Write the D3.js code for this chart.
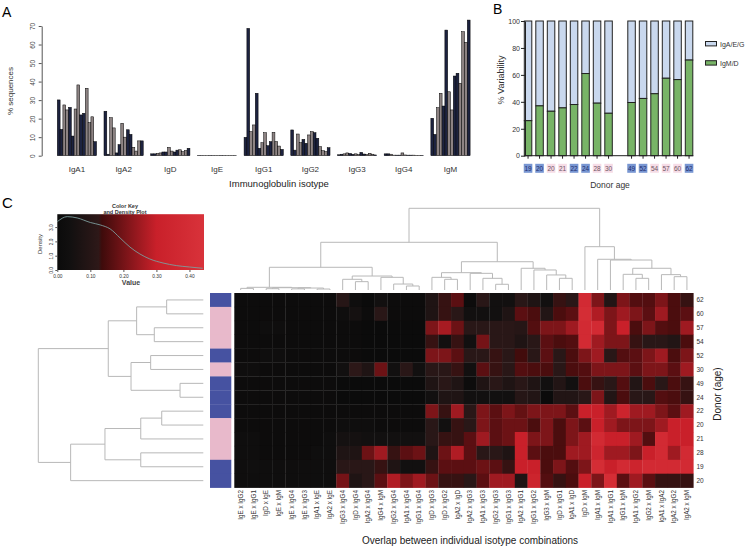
<!DOCTYPE html>
<html><head><meta charset="utf-8">
<script src="https://cdn.jsdelivr.net/npm/d3@7"></script>
<style>body{margin:0;background:#fff} svg{font-family:"Liberation Sans",Arial,sans-serif}</style>
</head><body><svg id="c" width="751" height="550"></svg>
<script>
// ---------------- DATA ----------------
const donorAges = ["19","20","20","21","22","24","28","30","49","52","54","57","60","62"];
const donorGroup = ["b","b","p","p","b","b","p","p","b","b","p","p","p","b"];
const isotypes = ["IgA1","IgA2","IgD","IgE","IgG1","IgG2","IgG3","IgG4","IgM"];
const pctIgA1 = [30.1,14.2,27.4,24.7,26.1,10.6,25.2,38.2,22.0,22.9,36.4,17.8,21.0,7.6];
const pctIgA2 = [24.0,0.8,20.5,15.0,1.5,6.0,17.5,10.0,14.0,11.5,4.5,2.5,8.0,8.0];
const pctIgD  = [1.0,1.0,1.2,1.5,2.0,2.0,4.5,2.5,2.0,3.0,3.2,2.2,2.8,4.0];
const pctIgE  = [0.15,0.1,0.1,0.1,0.15,0.1,0.1,0.1,0.15,0.1,0.1,0.1,0.1,0.1];
const pctIgG1 = [9.9,68.7,13.0,16.6,33.7,4.0,7.0,12.4,5.4,7.6,12.6,7.6,5.2,3.4];
const pctIgG2 = [13.9,3.0,11.7,7.0,8.8,6.7,11.2,13.0,12.4,9.4,4.9,2.7,2.2,4.3];
const pctIgG3 = [0.5,0.8,1.0,1.5,1.2,0.8,1.0,0.6,1.8,0.9,0.7,1.3,0.8,0.4];
const pctIgG4 = [1.0,1.0,0.8,0.3,0.3,0.3,1.5,0.4,0.3,0.3,0.3,0.2,0.2,0.2];
const pctIgM  = [20.2,11.5,25.9,33.7,26.8,67.8,34.5,24.7,43.0,44.5,39.1,66.9,61.2,73.2];
const yTicksA = [0,10,20,30,40,50,60,70];

const varIgMD  = [26,37,33,35.5,38,61,39,31.5,39.5,42.5,46,57.5,56.5,71];
const varIgAEG = [74,63,67,64.5,62,39,61,68.5,60.5,57.5,54,42.5,43.5,29];
const bSeries = ["IgA/E/G","IgM/D"];
const yTicksB = [0,20,40,60,80,100];

const colLabels = ["IgE x IgG2","IgE x IgG1","IgD x IgE","IgE x IgM","IgE x IgG4","IgE x IgG3","IgA1 x IgE","IgA2 x IgE",
 "IgG3 x IgG4","IgD x IgG4","IgA2 x IgG4","IgG4 x IgM","IgG2 x IgG4","IgA1 x IgG4","IgG1 x IgG4",
 "IgD x IgG3","IgD x IgG2","IgA2 x IgD","IgA2 x IgG3","IgA1 x IgG3","IgG2 x IgG3","IgG1 x IgG3",
 "IgA2 x IgG1","IgG1 x IgG2","IgG3 x IgM","IgD x IgG1","IgA1 x IgD",
 "IgD x IgM","IgA1 x IgM","IgA1 x IgG1","IgG1 x IgM","IgA1 x IgG2","IgG2 x IgM","IgA1 x IgA2","IgA2 x IgG2","IgA2 x IgM"];
const rowLabels = ["62","60","57","54","52","30","49","24","22","20","21","28","19","20"];
const rowGroup  = ["b","p","p","p","b","p","b","b","b","p","p","p","b","b"];
const heatValues = [
 [0.01,0.01,0.01,0.01,0.01,0.01,0.01,0.01, 0.10,0.02,0.00,0.04,0.01,0.01,0.01, 0.08,0.13,0.17,0.01,0.11,0.04,0.04, 0.11,0.08,0.04,0.13,0.11, 0.38,0.21,0.09,0.21,0.16,0.16,0.21,0.15,0.13],
 [0.01,0.01,0.01,0.01,0.01,0.01,0.01,0.01, 0.02,0.05,0.01,0.11,0.01,0.01,0.01, 0.08,0.13,0.11,0.04,0.04,0.04,0.08, 0.17,0.15,0.09,0.15,0.17, 0.40,0.27,0.21,0.25,0.21,0.17,0.25,0.15,0.17],
 [0.01,0.01,0.02,0.02,0.01,0.01,0.01,0.01, 0.01,0.01,0.00,0.00,0.00,0.00,0.00, 0.21,0.26,0.19,0.11,0.11,0.11,0.11, 0.10,0.16,0.21,0.21,0.25, 0.38,0.38,0.21,0.30,0.15,0.21,0.16,0.15,0.25],
 [0.01,0.01,0.01,0.01,0.01,0.01,0.01,0.01, 0.01,0.01,0.00,0.00,0.00,0.00,0.00, 0.13,0.04,0.13,0.04,0.20,0.11,0.11, 0.08,0.11,0.17,0.15,0.16, 0.38,0.25,0.21,0.21,0.13,0.11,0.11,0.09,0.15],
 [0.01,0.01,0.02,0.02,0.01,0.01,0.01,0.01, 0.01,0.01,0.00,0.00,0.00,0.00,0.00, 0.21,0.21,0.17,0.11,0.11,0.13,0.11, 0.14,0.11,0.17,0.11,0.15, 0.21,0.25,0.11,0.16,0.17,0.21,0.25,0.15,0.21],
 [0.02,0.02,0.01,0.01,0.01,0.01,0.01,0.01, 0.04,0.12,0.08,0.19,0.04,0.11,0.04, 0.11,0.11,0.13,0.04,0.17,0.13,0.11, 0.16,0.15,0.15,0.11,0.15, 0.16,0.21,0.21,0.21,0.17,0.21,0.21,0.17,0.25],
 [0.01,0.01,0.01,0.01,0.01,0.01,0.01,0.01, 0.00,0.00,0.00,0.00,0.00,0.00,0.00, 0.08,0.11,0.08,0.01,0.08,0.11,0.08, 0.11,0.08,0.04,0.09,0.04, 0.15,0.13,0.11,0.16,0.09,0.15,0.11,0.15,0.13],
 [0.01,0.01,0.01,0.01,0.01,0.01,0.01,0.01, 0.00,0.00,0.00,0.00,0.00,0.00,0.00, 0.04,0.08,0.08,0.04,0.04,0.04,0.04, 0.10,0.09,0.00,0.09,0.09, 0.11,0.21,0.09,0.15,0.11,0.11,0.16,0.15,0.13],
 [0.01,0.01,0.01,0.01,0.01,0.01,0.01,0.01, 0.01,0.01,0.01,0.01,0.01,0.01,0.01, 0.21,0.13,0.25,0.11,0.21,0.17,0.21, 0.18,0.21,0.21,0.21,0.17, 0.30,0.30,0.25,0.33,0.25,0.25,0.21,0.17,0.25],
 [0.01,0.01,0.01,0.01,0.01,0.01,0.01,0.01, 0.02,0.02,0.02,0.01,0.01,0.01,0.01, 0.11,0.04,0.13,0.11,0.21,0.17,0.19, 0.19,0.15,0.21,0.15,0.21, 0.17,0.30,0.25,0.21,0.21,0.21,0.25,0.30,0.30],
 [0.02,0.02,0.01,0.01,0.01,0.01,0.01,0.02, 0.05,0.05,0.04,0.04,0.04,0.04,0.04, 0.11,0.13,0.13,0.17,0.25,0.17,0.19, 0.30,0.21,0.21,0.15,0.21, 0.25,0.38,0.30,0.30,0.25,0.16,0.38,0.30,0.30],
 [0.02,0.02,0.01,0.01,0.01,0.01,0.02,0.02, 0.08,0.08,0.19,0.25,0.13,0.17,0.19, 0.08,0.19,0.27,0.17,0.11,0.11,0.08, 0.30,0.17,0.15,0.15,0.25, 0.25,0.34,0.25,0.25,0.21,0.30,0.38,0.25,0.38],
 [0.02,0.03,0.02,0.02,0.02,0.02,0.02,0.02, 0.11,0.11,0.11,0.13,0.08,0.04,0.04, 0.13,0.17,0.17,0.17,0.19,0.17,0.13, 0.30,0.30,0.15,0.21,0.16, 0.21,0.40,0.30,0.38,0.33,0.38,0.38,0.38,0.38],
 [0.02,0.02,0.02,0.02,0.02,0.02,0.02,0.02, 0.20,0.08,0.11,0.17,0.27,0.21,0.25, 0.19,0.13,0.13,0.11,0.17,0.25,0.25, 0.08,0.33,0.16,0.13,0.15, 0.30,0.21,0.40,0.17,0.25,0.17,0.13,0.13,0.13]
];
// dendrograms: [height, left, right]; leaf = index
const colTree = [1.0,
  [0.584,
    [0.278,
      [0.033, [0.02,0,1], [0.028,[0.016,2,3],[0.024,[0.014,4,5],[0.012,6,7]]]],
      [0.171, [0.131,8,[0.102,9,10]], [0.155,11,[0.073,12,[0.049,13,14]]]]],
    [0.346,
      [0.212, [0.155,15,[0.131,16,17]], [0.204,18,[0.143,19,[0.07,20,21]]]],
      [0.266, 22, [0.245,23,[0.184,24,[0.143,25,26]]]]]],
  [0.53, 27, [0.376, 28, [0.367, 29, [0.266, [0.192,30,[0.143,31,32]], [0.188,33,[0.163,34,35]]]]]]];
const rowTree = [1.0,
  [0.576, [0.404,[0.222,0,1],[0.297,2,3]], [0.438,[0.319,4,5],[0.141,6,7]]],
  [0.804, [0.596,[0.379,[0.252,8,9],10],[0.379,11,12]], 13]];
const keyBreaks = [0, 0.04, 0.125, 0.135, 0.3, 0.44];
const keyColors = ["#0b0b0b","#121010","#2e1818","#3e0b0b","#c9202a","#d8323a"];
const densValue = [0,0.03,0.06,0.10,0.13,0.16,0.19,0.22,0.25,0.28,0.32,0.36,0.40,0.44];
const densY     = [3.38,3.73,3.64,3.32,3.15,2.87,2.24,1.6,1.12,0.77,0.49,0.31,0.21,0.12];
const keyXTicks = [0,0.1,0.2,0.3,0.4];
const keyYTicks = [0,1,2,3];

// ---------------- DRAW ----------------
const svg = d3.select("#c");
const darkFill = "#1d2340", greyFill = "#8d8383";
const blueSide = "#4652a1", pinkSide = "#e8b9cb";

// Panel letters
svg.append("text").attr("x",2).attr("y",17).attr("font-size",14).text("A");
svg.append("text").attr("x",493).attr("y",14).attr("font-size",14).text("B");
svg.append("text").attr("x",2).attr("y",208).attr("font-size",15).text("C");

// ===== Panel A =====
const pctByIso = [pctIgA1,pctIgA2,pctIgD,pctIgE,pctIgG1,pctIgG2,pctIgG3,pctIgG4,pctIgM];
const yA = d3.scaleLinear().domain([0,70]).range([155.7,26]);
const gA = d3.scaleBand().domain(isotypes).range([57.3,470.1]).paddingInner(0.16);
const bA = d3.scaleBand().domain(d3.range(donorAges.length)).range([0,gA.bandwidth()]);
const pA = svg.append("g");
isotypes.forEach((iso,k)=>{
  const g = pA.append("g").attr("transform",`translate(${gA(iso)},0)`);
  g.selectAll("rect").data(pctByIso[k]).join("rect")
    .attr("x",(d,i)=>bA(i)).attr("width",bA.bandwidth())
    .attr("y",d=>yA(d)).attr("height",d=>yA(0)-yA(d))
    .attr("fill",(d,i)=>donorGroup[i]==="b"?darkFill:greyFill)
    .attr("stroke","#000").attr("stroke-width",0.5);
  pA.append("text").attr("x",gA(iso)+gA.bandwidth()/2).attr("y",171.5)
    .attr("text-anchor","middle").attr("font-size",8).attr("fill","#333").text(iso);
});
const axA = svg.append("g").attr("transform","translate(41.7,0)")
  .call(d3.axisLeft(yA).tickValues(yTicksA).tickSize(3).tickSizeOuter(0));
axA.select(".domain").attr("stroke","#555");
axA.selectAll(".tick line").attr("stroke","#555");
axA.selectAll(".tick text").attr("transform","rotate(-90)").attr("x",0).attr("y",-6.5).attr("dy",0)
  .attr("text-anchor","middle").attr("font-size",6.5).attr("fill","#444").attr("font-family","Liberation Sans, Arial");
svg.append("text").attr("transform","translate(13,91) rotate(-90)").attr("text-anchor","middle")
  .attr("font-size",8).attr("fill","#333").text("% sequences");
svg.append("text").attr("x",279).attr("y",186.5).attr("text-anchor","middle")
  .attr("font-size",9.5).attr("fill","#222").text("Immunoglobulin isotype");

// ===== Panel B =====
const slotKeys = [...d3.range(8),"gap",...d3.range(8,14)];
const xB = d3.scaleBand().domain(slotKeys).range([522.3,694.8]).paddingInner(0.348).paddingOuter(0.174);
const yB = d3.scaleLinear().domain([0,100]).range([155.7,21]);
const slotOf = i => i<8 ? i : i;
const pB = svg.append("g");
donorAges.forEach((age,i)=>{
  const x = xB(slotOf(i));
  pB.append("rect").attr("x",x).attr("width",xB.bandwidth())
    .attr("y",yB(varIgMD[i]+varIgAEG[i])).attr("height",yB(varIgMD[i])-yB(varIgMD[i]+varIgAEG[i]))
    .attr("fill","#c9d8ee").attr("stroke","#222").attr("stroke-width",1);
  pB.append("rect").attr("x",x).attr("width",xB.bandwidth())
    .attr("y",yB(varIgMD[i])).attr("height",yB(0)-yB(varIgMD[i]))
    .attr("fill","#78b467").attr("stroke","#222").attr("stroke-width",1);
  const cx = x + xB.bandwidth()/2;
  pB.append("line").attr("x1",cx).attr("x2",cx).attr("y1",yB(0)).attr("y2",yB(0)+3).attr("stroke","#222");
  const isB = donorGroup[i]==="b";
  pB.append("rect").attr("x",cx-4.3).attr("y",163.8).attr("width",8.6).attr("height",9)
    .attr("fill",isB?"#7896d2":"#f6dce6");
  pB.append("text").attr("x",cx).attr("y",170.8).attr("text-anchor","middle").attr("font-size",6.5)
    .attr("fill",isB?"#1d2d6e":"#6e5563").text(age);
});
const axB = svg.append("g").attr("transform","translate(525,0)")
  .call(d3.axisLeft(yB).tickValues(yTicksB).tickSize(4).tickSizeOuter(0));
axB.select(".domain").attr("stroke","#222").attr("stroke-width",1);
axB.selectAll(".tick line").attr("stroke","#222");
axB.selectAll(".tick text").attr("font-size",7).attr("fill","#333").attr("x",-5).attr("font-family","Liberation Sans, Arial");
svg.append("line").attr("x1",525).attr("x2",693.3).attr("y1",yB(0)).attr("y2",yB(0)).attr("stroke","#222");
svg.append("text").attr("transform","translate(504,80) rotate(-90)").attr("text-anchor","middle")
  .attr("font-size",9).attr("fill","#333").text("% Variability");
svg.append("text").attr("x",610).attr("y",188).attr("text-anchor","middle")
  .attr("font-size",8.5).attr("fill","#333").text("Donor age");
const legCols = ["#c9d8ee","#78b467"];
bSeries.forEach((s,i)=>{
  svg.append("rect").attr("x",705.5).attr("y",41.5+i*19.2).attr("width",11).attr("height",4.4)
    .attr("fill",legCols[i]).attr("stroke","#222").attr("stroke-width",1);
  svg.append("text").attr("x",720).attr("y",46.5+i*19.2).attr("font-size",7).attr("fill","#333").text(s);
});

// ===== Colour key =====
const keyX = d3.scaleLinear().domain([0,0.444]).range([57.3,204]);
const keyY = d3.scaleLinear().domain([0,3.9]).range([270,214.2]);
const colorScale = d3.scaleLinear().domain(keyBreaks).range(keyColors).clamp(true);
const defs = svg.append("defs");
const grad = defs.append("linearGradient").attr("id","kg").attr("x1","0%").attr("x2","100%");
keyBreaks.forEach((b,i)=>grad.append("stop").attr("offset",(b/0.444*100)+"%").attr("stop-color",keyColors[i]));
grad.append("stop").attr("offset","100%").attr("stop-color",colorScale(0.444));
svg.append("rect").attr("x",keyX(0)).attr("y",keyY(3.9)).attr("width",keyX(0.444)-keyX(0))
  .attr("height",keyY(0)-keyY(3.9)).attr("fill","url(#kg)");
svg.append("path").datum(densValue.map((v,i)=>[v,densY[i]]))
  .attr("d",d3.line().x(d=>keyX(d[0])).y(d=>keyY(d[1])).curve(d3.curveMonotoneX))
  .attr("fill","none").attr("stroke","#7d9c9c").attr("stroke-width",0.9);
const kx = svg.append("g").attr("transform","translate(0,270)")
  .call(d3.axisBottom(keyX).tickValues(keyXTicks).tickSize(2).tickSizeOuter(0));
kx.select(".domain").remove();
kx.selectAll(".tick line").attr("stroke","#555");
kx.selectAll(".tick text").attr("font-size",4.8).attr("fill","#333").attr("y",4.5);
const ky = svg.append("g").attr("transform","translate(57.3,0)")
  .call(d3.axisLeft(keyY).tickValues(keyYTicks).tickSize(2).tickSizeOuter(0));
ky.select(".domain").remove();
ky.selectAll(".tick line").attr("stroke","#555");
ky.selectAll(".tick text").attr("transform","rotate(-90)").attr("x",0).attr("y",-4.5).attr("dy",0)
  .attr("text-anchor","middle").attr("font-size",4.8).attr("fill","#333");
svg.append("text").attr("transform","translate(42,244) rotate(-90)").attr("text-anchor","middle")
  .attr("font-size",6).attr("fill","#333").text("Density");
svg.append("text").attr("x",131).attr("y",284.5).attr("text-anchor","middle")
  .attr("font-size",7).attr("font-weight","bold").attr("fill","#444").text("Value");
svg.append("text").attr("x",125).attr("y",208).attr("text-anchor","middle")
  .attr("font-size",5.5).attr("font-weight","bold").attr("fill","#333").text("Color Key");
svg.append("text").attr("x",125).attr("y",214).attr("text-anchor","middle")
  .attr("font-size",5.5).attr("font-weight","bold").attr("fill","#333").text("and Density Plot");

// ===== Heatmap =====
const xH = d3.scaleBand().domain(d3.range(colLabels.length)).range([234.3,693.3]);
const yH = d3.scaleBand().domain(d3.range(rowLabels.length)).range([293,487.6]);
const hm = svg.append("g");
heatValues.forEach((row,r)=>{
  hm.selectAll(null).data(row).join("rect")
    .attr("x",(d,c)=>xH(c)).attr("y",yH(r)).attr("width",xH.bandwidth()+0.3).attr("height",yH.bandwidth()+0.3)
    .attr("fill",d=>colorScale(d));
});
svg.selectAll(".side").data(rowGroup).join("rect").attr("class","side")
  .attr("x",210).attr("width",21.3).attr("y",(d,i)=>yH(i)).attr("height",yH.bandwidth()+0.3)
  .attr("fill",d=>d==="b"?blueSide:pinkSide);
svg.selectAll(".rl").data(rowLabels).join("text").attr("class","rl")
  .attr("x",696.5).attr("y",(d,i)=>yH(i)+yH.bandwidth()/2).attr("dy","0.35em")
  .attr("font-size",6.5).attr("fill","#333").text(d=>d);
svg.selectAll(".cl").data(colLabels).join("text").attr("class","cl")
  .attr("transform",(d,i)=>`translate(${xH(i)+xH.bandwidth()/2},490) rotate(-90)`)
  .attr("dy","0.35em").attr("text-anchor","end").attr("font-size",6.3).attr("fill","#333").text(d=>d);
svg.append("text").attr("transform","translate(721,394) rotate(-90)").attr("text-anchor","middle")
  .attr("font-size",10).attr("fill","#222").text("Donor (age)");
svg.append("text").attr("x",470).attr("y",544).attr("text-anchor","middle")
  .attr("font-size",10).attr("fill","#222").text("Overlap between individual isotype combinations");

// ===== Dendrograms =====
const dendColor = "#b8b8b8";
const colH = d3.scaleLinear().domain([0,1]).range([290,208.3]);
const rowH = d3.scaleLinear().domain([0,1]).range([203.3,38.3]);
const dg = svg.append("g").attr("stroke",dendColor).attr("stroke-width",1).attr("fill","none");
function drawCol(n){
  if (typeof n === "number") return {p: xH(n)+xH.bandwidth()/2, h: 0};
  const l = drawCol(n[1]), r = drawCol(n[2]), h = n[0];
  dg.append("path").attr("d",`M${l.p},${colH(l.h)}V${colH(h)}H${r.p}V${colH(r.h)}`);
  return {p:(l.p+r.p)/2, h};
}
function drawRow(n){
  if (typeof n === "number") return {p: yH(n)+yH.bandwidth()/2, h: 0};
  const l = drawRow(n[1]), r = drawRow(n[2]), h = n[0];
  dg.append("path").attr("d",`M${rowH(l.h)},${l.p}H${rowH(h)}V${r.p}H${rowH(r.h)}`);
  return {p:(l.p+r.p)/2, h};
}
drawCol(colTree);
drawRow(rowTree);
</script></body></html>
